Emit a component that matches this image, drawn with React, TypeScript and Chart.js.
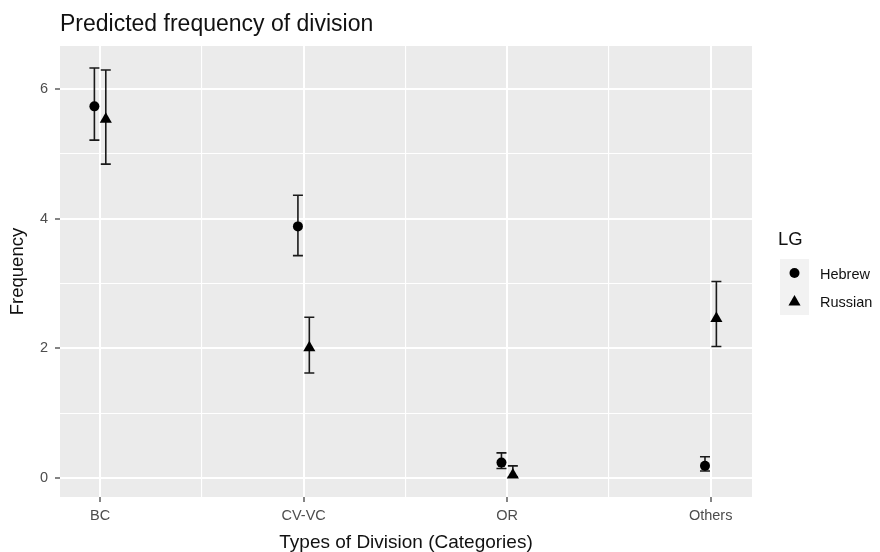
import React, { useEffect, useRef } from 'react';
import { Chart, registerables } from 'chart.js';

Chart.register(...registerables);

// ---- data ----
const categories = ['BC', 'CV-VC', 'OR', 'Others'];
const seriesNames = ['Hebrew', 'Russian'];
const hebrewMean = [5.73, 3.88, 0.24, 0.19];
const hebrewLower = [5.21, 3.43, 0.15, 0.11];
const hebrewUpper = [6.32, 4.36, 0.39, 0.33];
const russianMean = [5.53, 2.01, 0.05, 2.46];
const russianLower = [4.84, 1.62, 0.02, 2.03];
const russianUpper = [6.29, 2.48, 0.19, 3.03];
const xGridValues = [1, 1.5, 2, 2.5, 3, 3.5, 4];
const yGridValues = [0, 1, 2, 3, 4, 5, 6];
const yLabelValues = [0, 2, 4, 6];
const dodge = 0.028;

const FONT = 'Liberation Sans, Arial, Helvetica, sans-serif';
const TITLE = 'Predicted frequency of division';
const X_TITLE = 'Types of Division (Categories)';
const Y_TITLE = 'Frequency';
const LEGEND_TITLE = 'LG';

const makeData = (mean: number[], lo: number[], hi: number[], off: number) =>
  categories.map((_, i) => ({ x: i + 1 + off, y: mean[i], lo: lo[i], hi: hi[i] }));

function drawShape(ctx: CanvasRenderingContext2D, style: string, x: number, y: number, r: number) {
  ctx.beginPath();
  if (style === 'circle') {
    ctx.arc(x, y, r, 0, Math.PI * 2);
  } else {
    let rad = 0;
    ctx.moveTo(x + Math.sin(rad) * r, y - Math.cos(rad) * r);
    rad += (2 * Math.PI) / 3;
    ctx.lineTo(x + Math.sin(rad) * r, y - Math.cos(rad) * r);
    rad += (2 * Math.PI) / 3;
    ctx.lineTo(x + Math.sin(rad) * r, y - Math.cos(rad) * r);
    ctx.closePath();
  }
  ctx.fillStyle = '#000';
  ctx.fill();
}

const ggPlugin = {
  id: 'ggplot',
  beforeDraw(chart: any) {
    const { ctx, chartArea } = chart;
    ctx.save();
    ctx.fillStyle = '#EBEBEB';
    ctx.fillRect(chartArea.left, chartArea.top, chartArea.right - chartArea.left, chartArea.bottom - chartArea.top);
    ctx.restore();
  },
  beforeDatasetsDraw(chart: any) {
    const { ctx } = chart;
    const yScale = chart.scales.y;
    ctx.save();
    ctx.strokeStyle = '#1a1a1a';
    ctx.lineWidth = 1.6;
    chart.data.datasets.forEach((ds: any, di: number) => {
      const meta = chart.getDatasetMeta(di);
      meta.data.forEach((el: any, i: number) => {
        const d = ds.data[i];
        const x = el.x;
        const yl = yScale.getPixelForValue(d.lo);
        const yh = yScale.getPixelForValue(d.hi);
        const w = 5;
        ctx.beginPath();
        ctx.moveTo(x, yl);
        ctx.lineTo(x, yh);
        ctx.moveTo(x - w, yl);
        ctx.lineTo(x + w, yl);
        ctx.moveTo(x - w, yh);
        ctx.lineTo(x + w, yh);
        ctx.stroke();
      });
    });
    ctx.restore();
  },
  afterDraw(chart: any) {
    const { ctx, chartArea } = chart;
    ctx.save();
    // plot title
    ctx.fillStyle = '#111';
    ctx.font = `23px ${FONT}`;
    ctx.textAlign = 'left';
    ctx.textBaseline = 'alphabetic';
    ctx.fillText(TITLE, chartArea.left, 31);

    // legend
    const lx = chartArea.right + 26;
    ctx.fillStyle = '#111';
    ctx.font = `18.5px ${FONT}`;
    ctx.textBaseline = 'middle';
    ctx.fillText(LEGEND_TITLE, lx, 240);
    const keyX = lx + 2;
    const keyW = 29;
    const keyH = 28;
    const keyTop = 259;
    ctx.fillStyle = '#F2F2F2';
    ctx.fillRect(keyX, keyTop, keyW, keyH * seriesNames.length);
    const styles = ['circle', 'triangle'];
    const radii = [5, 7];
    ctx.font = `14.5px ${FONT}`;
    seriesNames.forEach((name, i) => {
      const cy = keyTop + keyH * i + keyH / 2;
      drawShape(ctx, styles[i], keyX + keyW / 2, cy + (i === 1 ? 1 : 0), radii[i]);
      ctx.fillStyle = '#111';
      ctx.textAlign = 'left';
      ctx.fillText(name, keyX + keyW + 11, cy + 2);
    });
    ctx.restore();
  },
};

const isInt = (v: any) => typeof v === 'number' && Math.abs(v - Math.round(v)) < 1e-6;

export default function App() {
  const ref = useRef<HTMLCanvasElement>(null);
  useEffect(() => {
    document.body.style.margin = '0';
    const canvas = ref.current;
    if (!canvas) return;
    Chart.defaults.font.family = FONT;
    const chart = new Chart(canvas, {
      type: 'scatter',
      data: {
        datasets: [
          {
            label: seriesNames[0],
            data: makeData(hebrewMean, hebrewLower, hebrewUpper, -dodge),
            pointStyle: 'circle',
            pointRadius: 5,
            pointBackgroundColor: '#000',
            pointBorderColor: '#000',
            pointBorderWidth: 0,
          },
          {
            label: seriesNames[1],
            data: makeData(russianMean, russianLower, russianUpper, dodge),
            pointStyle: 'triangle',
            pointRadius: 7,
            pointBackgroundColor: '#000',
            pointBorderColor: '#000',
            pointBorderWidth: 0,
          },
        ],
      } as any,
      options: {
        responsive: false,
        animation: false,
        devicePixelRatio: 1,
        layout: { padding: { top: 46, right: 128, left: 0, bottom: 0 } },
        plugins: {
          legend: { display: false },
          title: { display: false },
          tooltip: { enabled: false },
        },
        scales: {
          x: {
            type: 'linear',
            min: 0.803,
            max: 4.203,
            afterBuildTicks: (s: any) => {
              s.ticks = xGridValues.map((v) => ({ value: v }));
            },
            afterFit: (s: any) => {
              s.height = 55;
            },
            ticks: {
              autoSkip: false,
              maxRotation: 0,
              padding: 5,
              color: '#4D4D4D',
              font: { size: 14.5, family: FONT },
              callback: (v: any) => (isInt(v) ? categories[Math.round(v) - 1] : ''),
            },
            grid: {
              color: '#FFFFFF',
              lineWidth: (c: any) => (c.tick && isInt(c.tick.value) ? 2 : 1.1),
              tickColor: (c: any) => (c.tick && isInt(c.tick.value) ? '#333333' : 'rgba(0,0,0,0)'),
              tickLength: 5,
              tickWidth: 1.2,
              drawTicks: true,
            },
            border: { display: false },
            title: {
              display: true,
              text: X_TITLE,
              color: '#111',
              font: { size: 19, family: FONT, lineHeight: 1 },
              padding: { top: 0, bottom: 0 },
            },
          },
          y: {
            type: 'linear',
            min: -0.29,
            max: 6.66,
            afterBuildTicks: (s: any) => {
              s.ticks = yGridValues.map((v) => ({ value: v }));
            },
            afterFit: (s: any) => {
              s.width = 60;
            },
            ticks: {
              autoSkip: false,
              padding: 7,
              color: '#4D4D4D',
              font: { size: 14.5, family: FONT },
              callback: (v: any) => (yLabelValues.includes(v) ? String(v) : ''),
            },
            grid: {
              color: '#FFFFFF',
              lineWidth: (c: any) => (c.tick && yLabelValues.includes(c.tick.value) ? 2 : 1.1),
              tickColor: (c: any) => (c.tick && yLabelValues.includes(c.tick.value) ? '#333333' : 'rgba(0,0,0,0)'),
              tickLength: 5,
              tickWidth: 1.2,
              drawTicks: true,
            },
            border: { display: false },
            title: {
              display: true,
              text: Y_TITLE,
              color: '#111',
              font: { size: 18.5, family: FONT, lineHeight: 1.2 },
              padding: { top: 7, bottom: 0 },
            },
          },
        },
      } as any,
      plugins: [ggPlugin],
    });
    return () => chart.destroy();
  }, []);
  return (
    <div style={{ position: 'absolute', left: 0, top: 0, width: 880, height: 552 }}>
      <canvas ref={ref} width={880} height={552} style={{ width: 880, height: 552, display: 'block' }} />
    </div>
  );
}
